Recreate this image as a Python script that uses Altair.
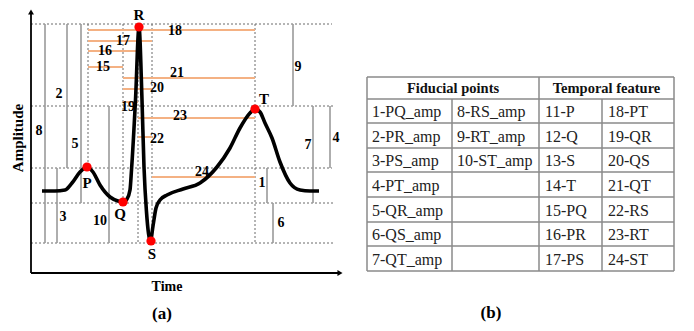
import altair as alt
import pandas as pd

# ---------------- data ----------------
# ECG trace: time and level (level axis grows downward in picture units)
ecg_time = [42, 55, 65, 72, 80, 87, 93, 100, 110, 118, 123, 127, 130, 131.5, 135.5, 139,
            142, 144, 146.5, 150.5, 153, 156, 160, 167, 183, 200, 217, 230, 240, 250, 255,
            260, 265, 272, 280, 290, 300, 310, 319]
ecg_level = [191, 191, 190, 183, 172, 167, 172, 185, 197, 201, 202, 199, 190, 170, 100, 27,
             100, 167, 212, 241, 226, 208, 200, 195, 189, 183, 167, 148, 128, 113, 109,
             112, 123, 138, 162, 183, 190, 191, 191]

# fiducial points
fid_name = ["P", "Q", "R", "S", "T"]
fid_time = [87, 123, 139, 151, 255]
fid_level = [167, 202, 27, 241, 109]
fid_label_time = [87, 120, 139, 152, 264]
fid_label_level = [183, 214, 15, 254, 99]

# reference levels (dashed) and reference times (dotted)
ref_level_name = ["R", "T", "P", "Q", "S"]
ref_level = [24, 106, 168, 203, 243]
ref_level_end = [332, 335, 332, 335, 335]
ref_time_name = ["P", "Q", "R", "S", "T"]
ref_time = [88, 123, 138, 152, 255]
ref_time_end = [168, 203, 243, 243, 243]

# amplitude features 1-10 (grey vertical bars)
amp_id = ["1", "2", "3", "4", "5", "6", "7", "8", "9", "10"]
amp_pair = [("P", "Q"), ("P", "R"), ("P", "S"), ("P", "T"), ("Q", "R"),
            ("Q", "S"), ("Q", "T"), ("R", "S"), ("R", "T"), ("S", "T")]
amp_time = [267, 67, 57, 330, 81, 273, 313, 45, 293, 109]
amp_label_time = [262, 59, 63, 336, 75, 281, 308, 39, 298, 100]
amp_label_level = [183, 94, 217, 138, 144, 223, 145, 131, 67, 221]

# temporal features 15-24 (orange horizontal bars)
tmp_id = ["15", "16", "17", "18", "19", "20", "21", "22", "23", "24"]
tmp_pair = [("P", "Q"), ("P", "R"), ("P", "S"), ("P", "T"), ("Q", "R"),
            ("Q", "S"), ("Q", "T"), ("R", "S"), ("R", "T"), ("S", "T")]
tmp_level = [67, 51, 41, 30, 102, 89, 78, 137, 118, 177]
tmp_label_time = [103, 105, 123, 175, 128, 157, 177, 157, 180, 202]
tmp_label_level = [67, 51, 41, 31, 107, 88, 73, 139, 116, 172]

# table
table_header = ["Fiducial points", "Temporal feature"]
fid_col1 = ["1-PQ_amp", "2-PR_amp", "3-PS_amp", "4-PT_amp", "5-QR_amp", "6-QS_amp", "7-QT_amp"]
fid_col2 = ["8-RS_amp", "9-RT_amp", "10-ST_amp", "", "", "", ""]
tmp_col1 = ["11-P", "12-Q", "13-S", "14-T", "15-PQ", "16-PR", "17-PS"]
tmp_col2 = ["18-PT", "19-QR", "20-QS", "21-QT", "22-RS", "23-RT", "24-ST"]

# ---------------- layout helpers ----------------
XS = alt.Scale(domain=[8, 686])
YS = alt.Scale(domain=[8, 323], reverse=True)
FONT = "Liberation Serif"


def X(f):
    return alt.X(f, type="quantitative", scale=XS, axis=None)


def Y(f):
    return alt.Y(f, type="quantitative", scale=YS, axis=None)


lv = dict(zip(ref_level_name, ref_level))
tv = dict(zip(ref_time_name, ref_time))
axis_time0 = 31
axis_level0 = 273

layers = []

# dashed horizontal reference levels
df_lv = pd.DataFrame({"x0": [axis_time0] * 5, "x1": ref_level_end, "y": ref_level})
layers.append(alt.Chart(df_lv).mark_rule(color="#6a6a6a", strokeWidth=1, strokeDash=[2, 2]).encode(
    x=X("x0"), x2="x1", y=Y("y")))

# dotted vertical reference times
df_tv = pd.DataFrame({"x": ref_time, "y0": [ref_level[0]] * 5, "y1": ref_time_end})
layers.append(alt.Chart(df_tv).mark_rule(color="#6a6a6a", strokeWidth=1, strokeDash=[2, 2]).encode(
    x=X("x"), y=Y("y0"), y2="y1"))

# grey amplitude bars
df_amp = pd.DataFrame({
    "x": amp_time,
    "y0": [lv[a] for a, b in amp_pair],
    "y1": [lv[b] for a, b in amp_pair],
})
layers.append(alt.Chart(df_amp).mark_rule(color="#9a9a9a", strokeWidth=1.6).encode(
    x=X("x"), y=Y("y0"), y2="y1"))

# orange temporal bars
df_tmp = pd.DataFrame({
    "x0": [tv[a] for a, b in tmp_pair],
    "x1": [tv[b] for a, b in tmp_pair],
    "y": tmp_level,
})
layers.append(alt.Chart(df_tmp).mark_rule(color="#F4B183", strokeWidth=2).encode(
    x=X("x0"), x2="x1", y=Y("y")))

# axes with arrows
df_ax = pd.DataFrame({"x0": [axis_time0, axis_time0], "x1": [axis_time0, 338],
                      "y0": [axis_level0, axis_level0], "y1": [12, axis_level0]})
layers.append(alt.Chart(df_ax).mark_rule(color="black", strokeWidth=1.8).encode(
    x=X("x0"), x2="x1", y=Y("y0"), y2="y1"))
layers.append(alt.Chart(pd.DataFrame({"x": [axis_time0], "y": [12]})).mark_point(
    shape="triangle-up", filled=True, color="black", size=35, opacity=1).encode(x=X("x"), y=Y("y")))
layers.append(alt.Chart(pd.DataFrame({"x": [340], "y": [axis_level0]})).mark_point(
    shape="triangle-right", filled=True, color="black", size=35, opacity=1).encode(x=X("x"), y=Y("y")))

# ECG trace
df_ecg = pd.DataFrame({"t": ecg_time, "a": ecg_level})
layers.append(alt.Chart(df_ecg).mark_line(color="black", strokeWidth=3.6, interpolate="monotone").encode(
    x=X("t"), y=Y("a")))

# fiducial dots
df_fid = pd.DataFrame({"t": fid_time, "a": fid_level, "n": fid_name,
                       "lt": fid_label_time, "la": fid_label_level})
layers.append(alt.Chart(df_fid).mark_circle(color="#FF0000", size=85, opacity=1).encode(
    x=X("t"), y=Y("a")))
layers.append(alt.Chart(df_fid).mark_text(font=FONT, fontWeight="bold", fontSize=15, color="black").encode(
    x=X("lt"), y=Y("la"), text="n"))

# number labels
df_nl = pd.DataFrame({
    "x": amp_label_time + tmp_label_time,
    "y": amp_label_level + tmp_label_level,
    "t": amp_id + tmp_id,
})
layers.append(alt.Chart(df_nl).mark_text(font=FONT, fontWeight="bold", fontSize=14, color="black").encode(
    x=X("x"), y=Y("y"), text="t"))

# axis titles and captions
df_cap = pd.DataFrame({"x": [167, 162, 491], "y": [287, 314, 313], "t": ["Time", "(a)", "(b)"],
                       "s": [14, 17, 17]})
layers.append(alt.Chart(df_cap).mark_text(font=FONT, fontWeight="bold", color="black").encode(
    x=X("x"), y=Y("y"), text="t", size=alt.Size("s:Q", scale=None, legend=None)))
layers.append(alt.Chart(pd.DataFrame({"x": [18], "y": [138], "t": ["Amplitude"]})).mark_text(
    font=FONT, fontWeight="bold", fontSize=15, angle=270, color="black").encode(
    x=X("x"), y=Y("y"), text="t"))

# ---------------- table ----------------
t_left, t_mid, t_right = 367, 539, 674
col_split = [452, 602]
row_lines = [77, 99, 123, 148, 172, 197, 222, 246, 271]
h_rules = pd.DataFrame({"x0": [t_left] * len(row_lines), "x1": [t_right] * len(row_lines), "y": row_lines})
v_rules = pd.DataFrame({"x": [t_left, t_mid, t_right] + col_split,
                        "y0": [77, 77, 77, 99, 99], "y1": [271] * 5})
layers.append(alt.Chart(h_rules).mark_rule(color="#8a8a8a", strokeWidth=1.5).encode(
    x=X("x0"), x2="x1", y=Y("y")))
layers.append(alt.Chart(v_rules).mark_rule(color="#8a8a8a", strokeWidth=1.5).encode(
    x=X("x"), y=Y("y0"), y2="y1"))

df_head = pd.DataFrame({"x": [(t_left + t_mid) / 2, (t_mid + t_right) / 2], "y": [89, 89],
                        "t": table_header})
layers.append(alt.Chart(df_head).mark_text(font=FONT, fontWeight="bold", fontSize=14.5, color="#111").encode(
    x=X("x"), y=Y("y"), text="t"))

row_centers = [(row_lines[i] + row_lines[i + 1]) / 2 + 1 for i in range(1, 8)]
cells = []
for xs, col in zip([372, 457, 545, 608], [fid_col1, fid_col2, tmp_col1, tmp_col2]):
    for yc, txt in zip(row_centers, col):
        if txt:
            cells.append({"x": xs, "y": yc, "t": txt})
layers.append(alt.Chart(pd.DataFrame(cells)).mark_text(font=FONT, fontSize=16, align="left",
                                                       color="#222").encode(
    x=X("x"), y=Y("y"), text="t"))

chart = alt.layer(*layers).properties(
    width=678, height=315, padding=0, autosize=alt.AutoSizeParams(type="none")
).configure_view(stroke=None)

chart.save("out.html", embed_options={"renderer": "svg", "actions": False})
